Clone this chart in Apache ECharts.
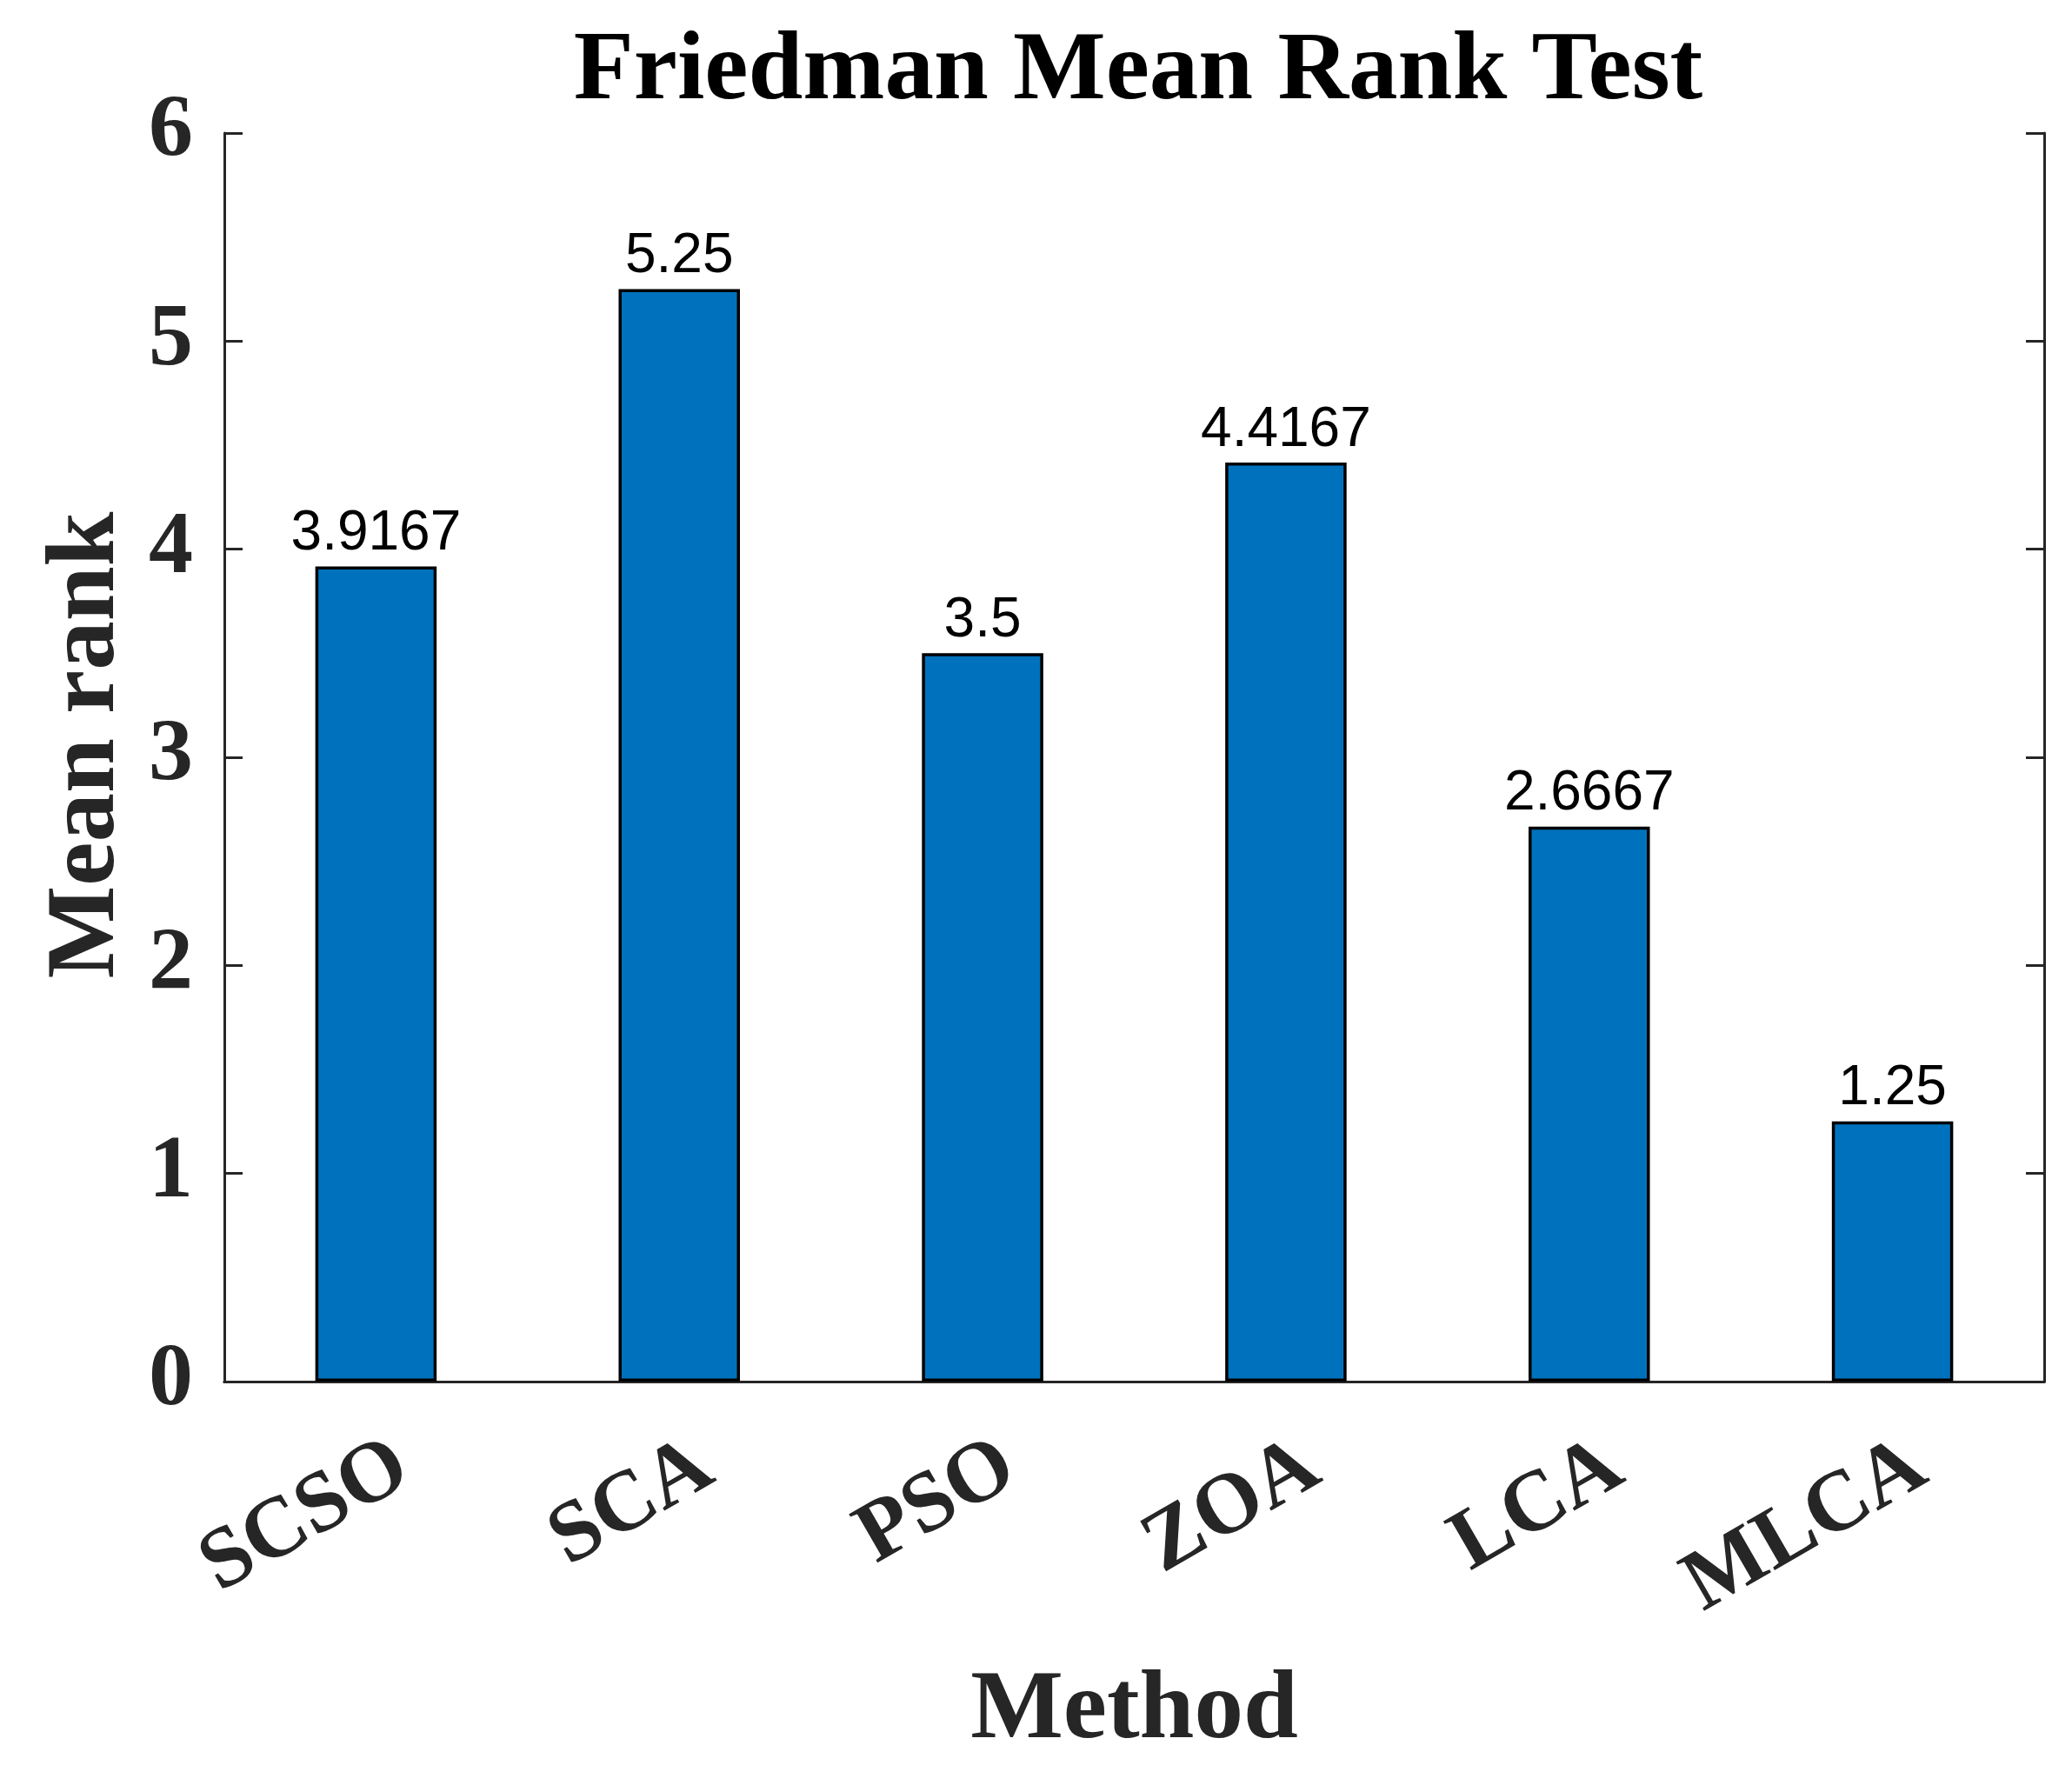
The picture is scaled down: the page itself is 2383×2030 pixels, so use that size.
<!DOCTYPE html>
<html>
<head>
<meta charset="utf-8">
<script src="https://cdn.jsdelivr.net/npm/echarts@6/dist/echarts.min.js"></script>
<style>
    html, body { margin: 0; padding: 0; background: #fff; }
    #chart { width: 2383px; height: 2030px; }
</style>
</head>
<body>
<div id="chart"></div>
<script>
    // 数据
    var methods = ["SCSO", "SCA", "PSO", "ZOA", "LCA", "MLCA"];
    var meanRank = [3.9167, 5.25, 3.5, 4.4167, 2.6667, 1.25];
    var yTicks = [0, 1, 2, 3, 4, 5, 6];

    var axisColor = "#262626";
    var serif = "'Liberation Serif', 'Times New Roman', serif";

    var option = {
        backgroundColor: "#fff",
        animation: false,
        title: {
            text: "Friedman Mean Rank Test",
            left: 1304,
            top: 22,
            textAlign: "center",
            textStyle: {
                fontFamily: serif,
                fontWeight: "bold",
                fontSize: 113,
                color: "#000"
            }
        },
        grid: {
            left: 258,
            right: 32,
            top: 153,
            bottom: 439,
            containLabel: false
        },
        xAxis: [{
            type: "category",
            data: methods,
            position: "bottom",
            name: "Method",
            nameLocation: "middle",
            nameGap: 323,
            nameMoveOverlap: false,
            nameTextStyle: {
                fontFamily: serif,
                fontWeight: "bold",
                fontSize: 113,
                color: axisColor
            },
            axisLine: { lineStyle: { color: axisColor, width: 3 } },
            axisTick: { inside: true, length: 21, alignWithLabel: true, lineStyle: { color: axisColor, width: 3 } },
            axisLabel: {
                rotate: 30,
                margin: 109,
                padding: [0, -36, 0, 0],
                fontFamily: serif,
                fontWeight: "bold",
                fontSize: 99,
                color: axisColor
            },
            splitLine: { show: false }
        }, {
            type: "category",
            data: methods,
            position: "top",
            axisLine: { lineStyle: { color: axisColor, width: 3 } },
            axisTick: { inside: true, length: 21, alignWithLabel: true, lineStyle: { color: axisColor, width: 3 } },
            axisLabel: { show: false },
            splitLine: { show: false }
        }],
        yAxis: [{
            type: "value",
            min: yTicks[0],
            max: yTicks[yTicks.length - 1],
            interval: 1,
            position: "left",
            name: "Mean rank",
            nameLocation: "middle",
            nameGap: 101,
            nameMoveOverlap: false,
            nameTextStyle: {
                fontFamily: serif,
                fontWeight: "bold",
                fontSize: 113,
                color: axisColor,
                padding: [0, 0, 0, 28]
            },
            axisLine: { show: true, lineStyle: { color: axisColor, width: 3 } },
            axisTick: { show: true, inside: true, length: 21, lineStyle: { color: axisColor, width: 3 } },
            axisLabel: {
                margin: 36,
                fontFamily: serif,
                fontWeight: "bold",
                fontSize: 102,
                color: axisColor
            },
            splitLine: { show: false }
        }, {
            type: "value",
            min: yTicks[0],
            max: yTicks[yTicks.length - 1],
            interval: 1,
            position: "right",
            axisLine: { show: true, lineStyle: { color: axisColor, width: 3 } },
            axisTick: { show: true, inside: true, length: 21, lineStyle: { color: axisColor, width: 3 } },
            axisLabel: { show: false },
            splitLine: { show: false }
        }],
        series: [{
            name: "Mean rank",
            type: "bar",
            xAxisIndex: 0,
            yAxisIndex: 0,
            barWidth: "40%",
            data: meanRank,
            itemStyle: {
                color: "#0072BD",
                borderColor: "#000",
                borderWidth: 3.5
            },
            label: {
                show: true,
                position: "top",
                distance: 5,
                fontFamily: "'Liberation Sans', Arial, Helvetica, sans-serif",
                fontSize: 64,
                color: "#000",
                formatter: function (p) {
                    return String(p.value);
                }
            }
        }]
    };

    var chartObj = echarts.init(document.getElementById("chart"));
    chartObj.setOption(option, true);
    window.addEventListener("resize", function () {
        chartObj.resize();
    });
</script>
</body>
</html>
